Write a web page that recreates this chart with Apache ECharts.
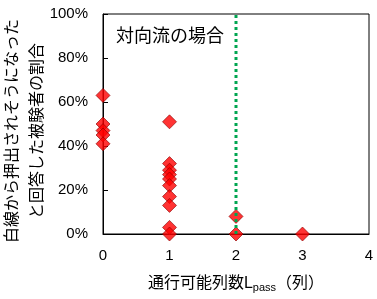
<!DOCTYPE html>
<html><head><meta charset="utf-8">
<script src="https://cdn.jsdelivr.net/npm/echarts@6/dist/echarts.min.js"></script>
<style>html,body{margin:0;padding:0;background:#fff}#c{width:377px;height:299px}</style>
</head><body><div id="c"></div>
<script>
// Data
const lanes0 = [63, 50, 47, 45, 41];
const lanes1 = [51, 32, 29, 27, 25, 22, 17, 13, 3, 0];
const lanes2 = [8, 0];
const lanes3 = [0];
const laneCounts = [0, 1, 2, 3];
const laneGroups = [lanes0, lanes1, lanes2, lanes3];
const thresholdX = 2;
const yTicks = [0, 20, 40, 60, 80, 100];
const titleText = '対向流の場合';
const yName = '白線から押出されそうになった\nと回答した被験者の割合';

const points = [];
laneGroups.forEach((g, i) => g.forEach(v => points.push([laneCounts[i], v])));

const FONT = "'Liberation Sans', 'Noto Sans CJK JP', sans-serif";
const chart = echarts.init(document.getElementById('c'), null, {renderer: 'canvas'});
chart.setOption({
  animation: false,
  textStyle: {fontFamily: FONT},
  title: {text: titleText, left: 111, top: 23,
    textStyle: {fontSize: 18, fontWeight: 'normal', color: '#000', fontFamily: FONT}},
  grid: {left: 103, right: 8, top: 14, bottom: 65, show: true, borderColor: '#000', borderWidth: 1,
    containLabel: false, outerBoundsMode: 'none'},
  xAxis: {
    type: 'value', min: 0, max: 4, interval: 1,
    axisLine: {lineStyle: {color: '#000', width: 1}},
    axisTick: {show: false},
    splitLine: {show: false},
    axisLabel: {color: '#000', fontSize: 15, margin: 14, fontFamily: FONT},
    name: '{a|通行可能列数L}{s|pass}{a|（列）}',
    nameLocation: 'middle', nameGap: 40, nameMoveOverlap: false,
    nameTextStyle: {rich: {
      a: {fontSize: 16, color: '#000', fontFamily: FONT},
      s: {fontSize: 11, color: '#000', fontFamily: FONT, padding: [8, 0, 0, 0]}
    }}
  },
  yAxis: {
    type: 'value', min: 0, max: 100, interval: 20,
    axisLine: {show: true, lineStyle: {color: '#000', width: 1}},
    axisTick: {show: true, inside: true, length: 5, lineStyle: {color: '#000'}},
    splitLine: {show: false},
    axisLabel: {color: '#000', fontSize: 15, margin: 15, formatter: '{value}%', fontFamily: FONT},
    name: yName, nameLocation: 'middle', nameRotate: 90, nameGap: 53, nameMoveOverlap: false,
    nameTextStyle: {fontSize: 16, color: '#000', lineHeight: 25, fontFamily: FONT, padding: [0, 14, 0, 0]}
  },
  series: [
    {
      type: 'scatter', data: points, symbol: 'diamond', symbolSize: 14, z: 2,
      itemStyle: {color: '#ff0000', borderColor: '#8b0000', borderWidth: 0.8}
    },
    {
      type: 'line', data: [[thresholdX, yTicks[0]], [thresholdX, yTicks[yTicks.length - 1]]],
      symbol: 'none', z: 3,
      lineStyle: {color: '#00a550', width: 3, type: [3, 3]}
    }
  ]
});
</script></body></html>
